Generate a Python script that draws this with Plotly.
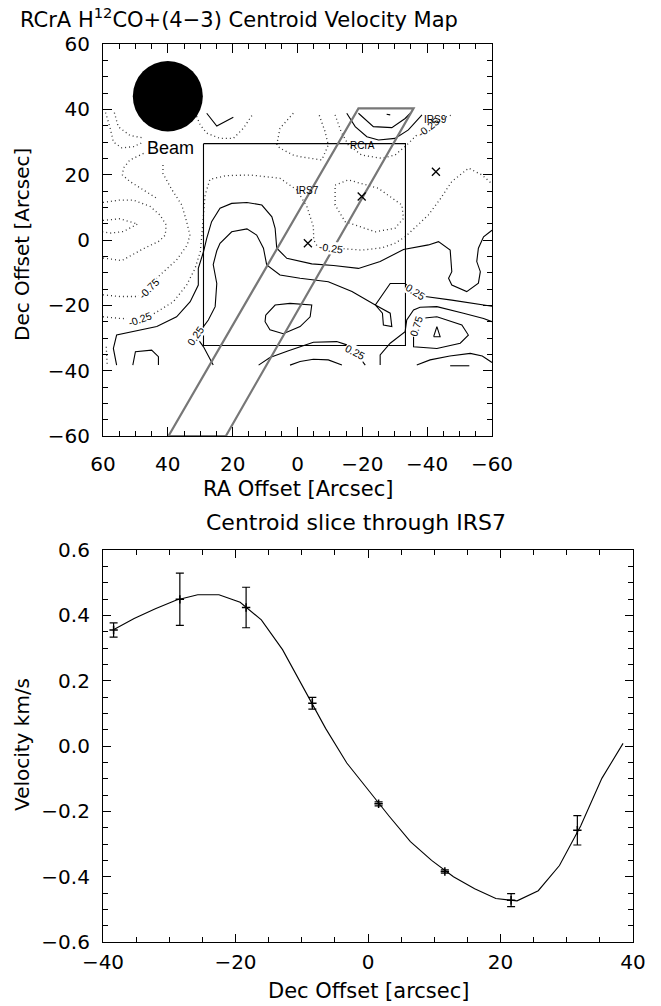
import plotly.graph_objects as go

# ---------------- bottom panel: centroid slice through IRS7 ----------------
curve_x = [-38.5, -35.3, -32.1, -28.9, -25.7, -22.5, -19.3, -16.1, -12.9, -9.7, -6.4, -3.2, 0.0,
           3.2, 6.4, 9.6, 12.9, 16.1, 19.3, 22.5, 25.7, 28.9, 32.1, 35.3, 38.5]
curve_v = [0.355, 0.390, 0.420, 0.447, 0.463, 0.463, 0.440, 0.386, 0.295, 0.178, 0.054, -0.052, -0.134,
           -0.215, -0.293, -0.350, -0.400, -0.437, -0.467, -0.474, -0.443, -0.366, -0.245, -0.099, 0.008]
pt_x = [-38.4, -28.4, -18.4, -8.4, 1.6, 11.6, 21.6, 31.6]
pt_v = [0.355, 0.449, 0.424, 0.131, -0.177, -0.384, -0.472, -0.258]
pt_err = [0.022, 0.080, 0.062, 0.018, 0.006, 0.005, 0.020, 0.045]

# ---------------- top panel: contour lines (RA, Dec in arcsec) ----------------
neg_contours = [
    [(60, 6.0), (54.8, 6.5), (49.3, 4.9), (53.7, 2.6), (57.8, 2.1), (60, 2.5)],
    [(60, 11.5), (55, 12.2), (50.6, 12.2), (45.5, 10.3), (42.4, 7.6), (40.5, 4.6), (40.8, 1.5),
     (42.6, -0.3), (47.6, -2.7), (54.2, -6.3), (60, -5.5)],
    [(47.5, 26.5), (51.7, 24.5), (53.7, 22.0), (54.0, 19.9), (51.7, 17.9), (46.5, 14.8), (43.5, 12.8)],
    [(60, -16.8), (54.8, -17.3), (49.6, -17.3), (46, -14.3), (42.4, -10.7), (37.3, -6.1), (34, -1.5),
     (33.2, 1.5), (34.2, 5.6), (35.7, 10.7), (38.8, 15.5), (41.5, 20.4), (41.5, 23.5)],
    [(60, -23.5), (54.8, -24), (48.6, -24.2), (44, -22.4), (38.3, -18.9), (34.2, -13.8), (31.6, -8.7),
     (30, -3.6), (29.5, 1.5), (29, 8), (28.5, 13.8), (27, 18.6), (22, 19.7), (14.6, 19.9), (5.4, 18.9),
     (0.2, 15.3), (-2.9, 10.2), (-4.9, 4.1), (-5.0, 0.0), (-6.0, -1.8), (-10.4, -2.3), (-14.7, -2.7),
     (-19.8, -3.1), (-26, -2.4), (-30.1, -1), (-33.2, 1), (-36.5, 4), (-40.4, 7.7), (-44, 12.5),
     (-47.6, 17.9), (-52.8, 22), (-56.9, 19.9), (-60, 17.2)],
    [(59.2, 39), (57.8, 34.3), (56.8, 30), (54.2, 28.2), (50.5, 28.6), (47.5, 30)],
    [(56.5, 39), (55.3, 34.7), (51.7, 32), (48, 31.3)],
    [(31.6, 39), (31, 37.5), (30, 35.2), (28, 32.7), (23.9, 31.1), (19.8, 31.1), (16.7, 34.2), (13.6, 38.8)],
    [(1.3, 38.8), (5.4, 34.2), (6.4, 29.1), (5.4, 28.1), (1.3, 26), (-0.8, 25.5), (-7.5, 24.5),
     (-9.5, 29.1), (-8.5, 33.2), (-6.5, 38.8)],
    [(-11.6, 38.3), (-13.5, 33), (-15.7, 29.1), (-19.8, 26), (-26, 25), (-30.1, 26), (-33.7, 29.1),
     (-38.4, 33.7), (-44.5, 37.2), (-47.6, 38.3)],
    [(-11.6, 16.8), (-15.7, 18.4), (-25, 15.8), (-32.2, 10.7), (-32.7, 6.6), (-30.1, 3.6), (-24, 2.5),
     (-14.7, 5.6), (-11.6, 10.7), (-11.6, 16.8)],
    [(59, -32.7), (58.7, -38.3)],
]
pos_contours = [
    [(28, 38.8), (24.9, 34.9), (19.8, 37.6)],
    [(-15.2, 38.8), (-17.8, 34.7), (-21.4, 31.6), (-25, 30.6), (-30.1, 31.1), (-34.2, 33.7), (-38.4, 38.3)],
    [(-18.8, 38.8), (-23.4, 34.7), (-29.1, 34.4), (-33.2, 37.2), (-34.8, 38.8)],
    [(-27.5, 38.5), (-28.6, 38.3)],
    [(55.8, -38.3), (56.8, -33.2), (55.8, -29.1), (49, -27.8), (43.4, -26.5), (37.3, -23.5), (33.1, -18.9),
     (30.6, -13.8), (30.6, -8.7), (29, -3.6), (28, 0.5), (26.5, 5.6), (23.9, 9.7), (20.3, 11.2), (15.6, 11.5),
     (11, 10.7), (7.9, 7.1), (6.9, 3.6), (6.4, -2.5), (3.3, -5.6), (-0.9, -6.6), (-4.4, -7.3), (-11.1, -7.8),
     (-18.8, -8.7), (-25.5, -6.6), (-32.7, -2.9), (-40.4, -1.5), (-43.5, -0.5), (-47.1, -3.1), (-47.6, -9.7),
     (-46.6, -11.7), (-47.6, -13.8), (-52.2, -15.8), (-55.8, -13.2), (-56.4, -9.7), (-55.3, -6.6),
     (-55.8, -2.5), (-57.4, 1), (-60, 3)],
    [(26, -38.3), (29, -32.7), (31.6, -29.1), (29, -26.5), (27.5, -24.5), (25.4, -20.4), (24.9, -13.3),
     (26, -7.5), (24.9, -3.3), (23.9, -1), (20.3, 2.5), (15.6, 3.4), (12.6, 1.5), (10.5, -2.5), (9.5, -7.6),
     (5.4, -10.7), (-0.8, -11.7), (-4.4, -12.2), (-9.5, -12.8), (-16.8, -15.8), (-24, -19.9), (-28.6, -13.3),
     (-33.2, -13.3), (-36.3, -16.3), (-39.4, -17.3), (-47.6, -18.4), (-56.9, -19.9), (-60, -20.3)],
    [(-24, -19.9), (-28.6, -22.4), (-29.1, -26.5), (-26.5, -26), (-26.2, -22.4), (-24, -19.9)],
    [(9.8, -23), (6.9, -19.9), (2.3, -19.4), (-4.4, -19.9), (-3.9, -23.5), (-0.8, -26.5), (4.4, -28.7),
     (8.5, -27.5), (10, -25), (9.8, -23)],
    [(12, -38.3), (8.5, -36), (3, -34), (-4.9, -31.3), (-12.1, -31.1), (-15.2, -32.1), (-17.8, -34.2),
     (-20.9, -38.3)],
    [(2.3, -38.3), (-0.8, -37.2), (-4.9, -36.5), (-9.5, -36.7), (-13.7, -38.3)],
    [(-25.5, -38.3), (-25.5, -35.2), (-28.6, -31.6), (-33.2, -28.1), (-33.7, -24.5), (-35.8, -21.4),
     (-37.8, -20.6), (-43, -20.4), (-51.2, -22.4), (-57.4, -24), (-60, -25)],
    [(-35.8, -27.5), (-35.8, -32.7), (-43, -33.2), (-50.2, -31.6), (-52.7, -29.1), (-50.7, -26), (-43, -23.5),
     (-37.8, -24), (-35.8, -27.5)],
    [(-42, -29.6), (-43, -26.5), (-44, -29.6), (-42, -29.6)],
    [(-36.8, -38.3), (-40.9, -36.7), (-47, -35.5), (-53.3, -34.7), (-57, -35.5), (-60, -37.5)],
    [(-47.1, -38.5), (-53, -38.5)],
    [(50.8, -38.3), (50, -34.2), (45, -33.7), (42.9, -35.7), (42.9, -38.3)],
]
contour_labels = ["-0.25", "-0.25", "-0.75", "-0.25", "0.25", "0.25", "0.75", "0.25"]
label_x = [-40.4, -10.4, 45.7, 48.6, 31.6, -36.5, -36.5, -17.8]
label_y = [34.7, -2.3, -14.8, -24.2, -29.3, -16.0, -26.2, -34.2]
label_angle = [-38, 8, -45, -20, -55, 33, -72, 28]

src_names = ["IRS7", "RCrA", "IRS9"]
src_x = [-3.2, -19.8, -42.7]
src_y = [-1.0, 13.3, 20.9]
src_label_x = [-3.0, -19.9, -42.5]
src_label_y = [15.1, 28.8, 37.0]

box_x = [29.0, -33.3, -33.3, 29.0, 29.0]
box_y = [29.5, 29.5, -32.3, -32.3, 29.5]
strip_x = [39.8, -18.8, -35.8, 22.1, 39.8]
strip_y = [-60.0, 40.3, 40.3, -60.0, -60.0]
beam_center = (40.0, 44.0)
beam_radius = 10.8

W, H = 661, 1006
FONT = "DejaVu Sans"


def px_x(p):
    return p / W


def px_y(p):
    return 1 - p / H


def flatten(lines):
    xs, ys = [], []
    for ln in lines:
        xs += [p[0] for p in ln] + [None]
        ys += [p[1] for p in ln] + [None]
    return xs, ys


fig = go.Figure()

nx, ny = flatten(neg_contours)
fig.add_trace(go.Scatter(x=nx, y=ny, mode="lines", xaxis="x", yaxis="y",
                         line=dict(color="#333333", width=1.3, dash="1px,3px"), hoverinfo="skip"))
sx, sy = flatten(pos_contours)
fig.add_trace(go.Scatter(x=sx, y=sy, mode="lines", xaxis="x", yaxis="y",
                         line=dict(color="black", width=1.1), hoverinfo="skip"))
fig.add_trace(go.Scatter(x=box_x, y=box_y, mode="lines", xaxis="x", yaxis="y",
                         line=dict(color="black", width=1.1), hoverinfo="skip"))
fig.add_trace(go.Scatter(x=strip_x, y=strip_y, mode="lines", xaxis="x", yaxis="y",
                         line=dict(color="#777777", width=2.2), hoverinfo="skip"))
fig.add_trace(go.Scatter(x=src_x, y=src_y, mode="markers", xaxis="x", yaxis="y",
                         marker=dict(symbol="x-thin", size=8, line=dict(color="black", width=1.3)),
                         hoverinfo="skip"))

# bottom panel traces
fig.add_trace(go.Scatter(x=curve_x, y=curve_v, mode="lines", xaxis="x2", yaxis="y2",
                         line=dict(color="black", width=1.1), hoverinfo="skip"))
fig.add_trace(go.Scatter(x=pt_x, y=pt_v, mode="markers", xaxis="x2", yaxis="y2",
                         marker=dict(symbol="cross-thin", size=6, line=dict(color="black", width=1.5)),
                         error_y=dict(type="data", array=pt_err, visible=True, color="black",
                                      thickness=1.2, width=4),
                         hoverinfo="skip"))

shapes = [dict(type="circle", xref="x", yref="y",
               x0=beam_center[0] + beam_radius, x1=beam_center[0] - beam_radius,
               y0=beam_center[1] - beam_radius, y1=beam_center[1] + beam_radius,
               fillcolor="black", line=dict(width=0), layer="above")]

annotations = []
for t, x, y, a in zip(contour_labels, label_x, label_y, label_angle):
    annotations.append(dict(x=x, y=y, xref="x", yref="y", text=t, showarrow=False, textangle=a,
                            font=dict(family="Liberation Sans", size=10.5, color="black"),
                            bgcolor="white", borderpad=0))
for t, x, y in zip(src_names, src_label_x, src_label_y):
    annotations.append(dict(x=x, y=y, xref="x", yref="y", text=t, showarrow=False,
                            font=dict(family="Liberation Sans", size=10, color="black")))
annotations.append(dict(x=39.2, y=28.3, xref="x", yref="y", text="Beam", showarrow=False,
                        font=dict(family="Liberation Sans", size=18, color="black")))

title_font = dict(family=FONT, size=21, color="black")
annotations += [
    dict(x=px_x(18), y=px_y(18), xref="paper", yref="paper", xanchor="left", yanchor="middle",
         text="RCrA H<sup>12</sup>CO+(4−3) Centroid Velocity Map", showarrow=False, font=title_font),
    dict(x=px_x(297.5), y=px_y(489), xref="paper", yref="paper", xanchor="center", yanchor="middle",
         text="RA Offset [Arcsec]", showarrow=False, font=title_font),
    dict(x=px_x(22), y=px_y(245), xref="paper", yref="paper", xanchor="center", yanchor="middle",
         text="Dec Offset [Arcsec]", showarrow=False, font=dict(title_font, size=20), textangle=-90),
    dict(x=px_x(356), y=px_y(522), xref="paper", yref="paper", xanchor="center", yanchor="middle",
         text="Centroid slice through IRS7", showarrow=False, font=dict(title_font, size=22)),
    dict(x=px_x(22), y=px_y(745), xref="paper", yref="paper", xanchor="center", yanchor="middle",
         text="Velocity km/s", showarrow=False, font=dict(title_font, size=20), textangle=-90),
    dict(x=px_x(368), y=px_y(991), xref="paper", yref="paper", xanchor="center", yanchor="middle",
         text="Dec Offset [arcsec]", showarrow=False, font=title_font),
]

tick_font = dict(family=FONT, size=20, color="black")
axis_common = dict(showgrid=False, zeroline=False, showline=True, linecolor="black", linewidth=1.2,
                   mirror="allticks", ticks="inside", tickcolor="black", tickwidth=1.1,
                   tickfont=tick_font, showspikes=False, automargin=False)

fig.update_layout(
    template="none",
    width=W, height=H, margin=dict(l=0, r=0, t=0, b=0, pad=0),
    paper_bgcolor="white", plot_bgcolor="white", showlegend=False,
    shapes=shapes, annotations=annotations,
    xaxis=dict(axis_common, domain=[px_x(103), px_x(492)], range=[60, -60], anchor="y",
               tickvals=[60, 40, 20, 0, -20, -40, -60],
               ticktext=["60", "40", "20", "0", "−20", "−40", "−60"], ticklen=9, ticklabelstandoff=10,
               minor=dict(dtick=5, tick0=0, ticks="inside", ticklen=5, tickcolor="black", tickwidth=1)),
    yaxis=dict(axis_common, domain=[px_y(436), px_y(44)], range=[-60, 60], anchor="x",
               tickvals=[-60, -40, -20, 0, 20, 40, 60],
               ticktext=["−60", "−40", "−20", "0", "20", "40", "60"], ticklen=9, ticklabelstandoff=8,
               minor=dict(dtick=5, tick0=0, ticks="inside", ticklen=5, tickcolor="black", tickwidth=1)),
    xaxis2=dict(axis_common, domain=[px_x(103), px_x(633)], range=[-40, 40], anchor="y2",
                tickvals=[-40, -20, 0, 20, 40], ticktext=["−40", "−20", "0", "20", "40"],
                ticklen=8, ticklabelstandoff=2,
                minor=dict(dtick=5, tick0=0, ticks="inside", ticklen=5, tickcolor="black", tickwidth=1)),
    yaxis2=dict(axis_common, domain=[px_y(942), px_y(550)], range=[-0.6, 0.6], anchor="x2",
                tickvals=[-0.6, -0.4, -0.2, 0.0, 0.2, 0.4, 0.6],
                ticktext=["−0.6", "−0.4", "−0.2", "0.0", "0.2", "0.4", "0.6"], ticklen=8,
                ticklabelstandoff=8,
                minor=dict(dtick=0.05, tick0=0, ticks="inside", ticklen=5, tickcolor="black", tickwidth=1)),
)

fig.write_html("out.html")
